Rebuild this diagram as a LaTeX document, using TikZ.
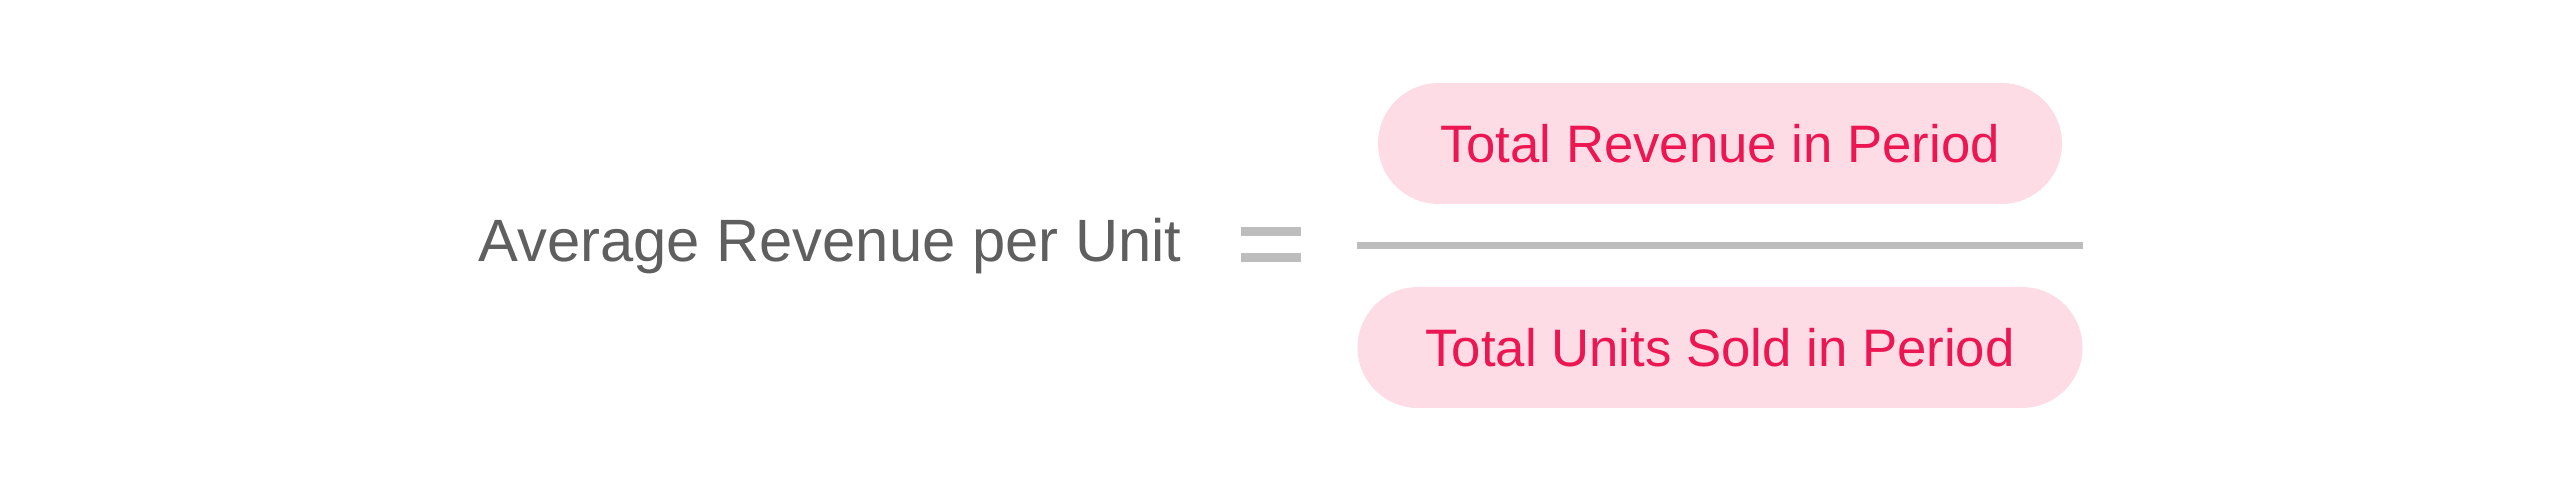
\documentclass[tikz,border=0pt]{standalone}
\usepackage{fontspec}
\setmainfont{Liberation Sans}
\definecolor{labelgray}{HTML}{5F5F5F}
\definecolor{rulegray}{HTML}{BDBDBD}
\definecolor{pillpink}{HTML}{FDDCE5}
\definecolor{pillred}{HTML}{EC1652}
\tikzset{
  pill/.style={rounded corners=0.605cm, fill=pillpink, minimum height=1.21cm, inner sep=0pt,
    text=pillred, font=\fontsize{15}{18}\selectfont},
  lhs/.style={text=labelgray, font=\fontsize{17}{20}\selectfont}
}
\begin{document}
\begin{tikzpicture}
\useasboundingbox (0,0) rectangle (25.6,4.91);
\node[lhs] (avg) at (8.3,2.45) {Average Revenue per Unit};
\draw[rulegray, line width=0.09cm] (12.41,2.59) -- (13.01,2.59);
\draw[rulegray, line width=0.09cm] (12.41,2.33) -- (13.01,2.33);
\node[pill, minimum width=6.84cm] (rev) at (17.2,3.475) {Total Revenue in Period};
\node[pill, minimum width=7.25cm] (units) at (17.2,1.435) {Total Units Sold in Period};
\draw[rulegray, line width=0.07cm] (units.west |- 0,2.455) -- (units.east |- 0,2.455);
\end{tikzpicture}
\end{document}
